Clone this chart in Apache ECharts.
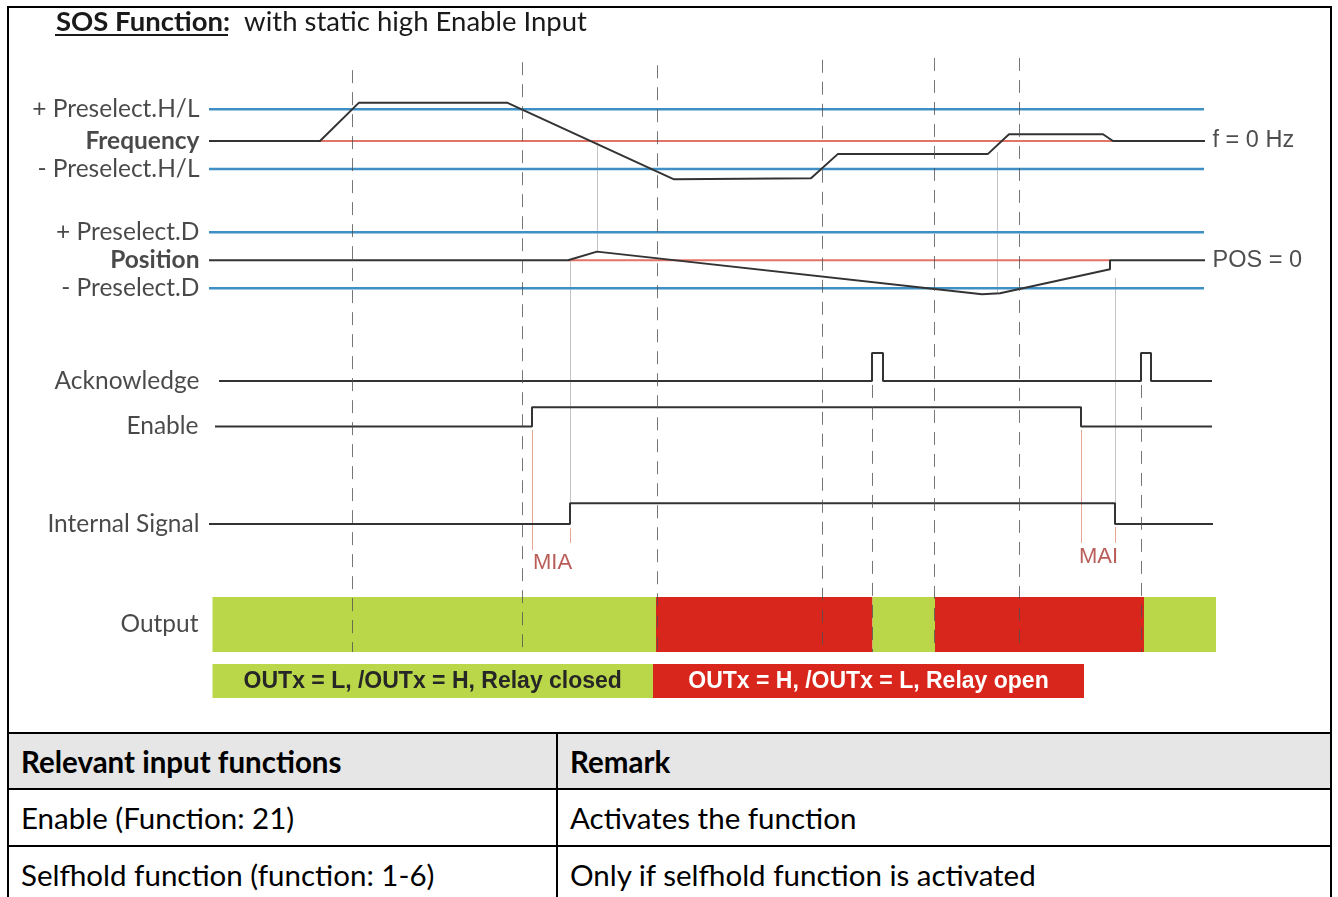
<!DOCTYPE html>
<html>
<head>
<meta charset="utf-8">
<title>SOS Function</title>
<script src="https://cdn.jsdelivr.net/npm/echarts@6/dist/echarts.min.js"></script>
<style>
  html, body { margin: 0; padding: 0; background: #fff; }
  #wrap { position: relative; width: 1338px; height: 897px; overflow: hidden; background: #fff; }
  #chart { position: absolute; left: 0; top: 0; width: 1338px; height: 730px; }
  #frame { position: absolute; left: 7px; top: 6px; width: 1325px; height: 900px;
           border: 2px solid #000; border-bottom: none; box-sizing: border-box; pointer-events: none; }
  #tbl { position: absolute; left: 7px; top: 732px; width: 1325px; border-collapse: collapse;
         font-family: Lato, "Noto Sans", sans-serif; font-size: 29.5px; color: #000; table-layout: fixed; }
  #tbl td { border: 2px solid #000; padding: 0 0 0 12px; vertical-align: middle; white-space: nowrap; }
  #tbl tr.head td { background: #e7e6e6; font-weight: bold; height: 54px; }
  #tbl tr.row td { height: 55px; }
</style>
</head>
<body>
<div id="wrap">
  <div id="chart"></div>
  <table id="tbl"></table>
  <div id="frame"></div>
</div>
<script>
// ---------- signal data (time in arbitrary units, levels per lane) ----------
const freqTrace = [[0, 0], [11.1, 0], [15.0, 1.37], [29.8, 1.37], [46.5, -1.37], [60.2, -1.33],
                   [62.9, -0.46], [77.9, -0.46], [80.0, 0.24], [89.4, 0.24], [90.4, 0], [99.6, 0]];
const freqZero = [[11.1, 0], [90.4, 0]];
const freqLimits = [1.13, -1];
const freqLabels = ['+ Preselect.H/L', 'Frequency', '- Preselect.H/L'];
const freqRightLabel = 'f = 0 Hz';

const posTrace = [[0, 0], [35.9, 0], [38.8, 0.31], [77.3, -1.21], [79.1, -1.18], [90.1, -0.32],
                  [90.1, 0], [99.6, 0]];
const posZero = [[35.9, 0], [90.1, 0]];
const posLimits = [1, -1];
const posLabels = ['+ Preselect.D', 'Position', '- Preselect.D'];
const posRightLabel = 'POS = 0';

const limitSpan = [0, 99.5];

const ackTrace = [[1.0, 0], [66.3, 0], [66.3, 1], [67.4, 1], [67.4, 0], [93.2, 0], [93.2, 1],
                  [94.2, 1], [94.2, 0], [100.3, 0]];
const enableTrace = [[0.6, 0], [32.3, 0], [32.3, 1], [87.2, 1], [87.2, 0], [100.3, 0]];
const internalTrace = [[0, 0], [36.1, 0], [36.1, 1], [90.6, 1], [90.6, 0], [100.4, 0]];
const laneNames = ['Acknowledge', 'Enable', 'Internal Signal', 'Output'];

// output state: [start, end, state] where 1 = H (relay open), 0 = L (relay closed)
const outputStates = [[0.35, 44.7, 0], [44.7, 66.35, 1], [66.35, 72.6, 0], [72.6, 93.5, 1], [93.5, 100.7, 0]];
const stateKey = [[0.35, 44.4, 0], [44.4, 87.5, 1]];
const stateKeyText = ['OUTx = L, /OUTx = H, Relay closed', 'OUTx = H, /OUTx = L, Relay open'];

// vertical guides: [t, from, to] on the guide lane (0 = top, 100 = bottom)
const eventGuides = [[14.27, 3.3, 98.7], [31.32, 2.0, 98.7], [44.77, 2.5, 98.7], [61.27, 1.6, 98.7],
                     [72.5, 1.3, 98.7], [81.03, 1.3, 98.7], [66.33, 54.9, 98.7], [93.23, 54.9, 98.7]];
const linkGuides = [[38.8, 14.9, 33.1], [36.1, 34.6, 74.3], [78.8, 16.7, 40.0], [90.55, 37.4, 74.3]];
const delayMarks = [[32.33, 62.3, 82.0], [36.1, 78.4, 80.8], [87.2, 62.3, 80.8], [90.6, 78.2, 80.8]];
const delayLabels = [[34.35, 84.1, 'MIA'], [88.95, 83.1, 'MAI']];

const titleBold = 'SOS Function:';
const titleRest = 'with static high Enable Input';

const tableHeader = ['Relevant input functions', 'Remark'];
const tableRows = [
  ['Enable (Function: 21)', 'Activates the function'],
  ['Selfhold function (function: 1-6)', 'Only if selfhold function is activated']
];

// ---------- styling ----------
const TRACE = '#333333';
const BLUE = '#3f8fc5';
const ZERO_RED = '#e27467';
const GREEN = '#b9d749';
const RED = '#d9261c';
const LABEL_FONT = 'Lato';
const LABEL_SIZE = 24.5;
const SANS = '"Liberation Sans", Arial, sans-serif';

// ---------- lanes (grids) ----------
const lanes = [
  { top: 85, height: 112, min: -2, max: 2 },        // 0 frequency
  { top: 204.3, height: 112, min: -2, max: 2 },     // 1 position
  { top: 353, height: 28, min: 0, max: 1 },         // 2 acknowledge
  { top: 407.3, height: 19.2, min: 0, max: 1 },     // 3 enable
  { top: 503.3, height: 20.7, min: 0, max: 1 },     // 4 internal signal
  { top: 597, height: 55, min: 0, max: 1 },         // 5 output
  { top: 664, height: 34, min: 0, max: 1 },         // 6 state key
  { top: 50, height: 610, min: 0, max: 100, inverse: true } // 7 guides
];
const GRID_LEFT = 209, GRID_W = 1010, T_MAX = 101;

const grid = lanes.map(l => ({ left: GRID_LEFT, width: GRID_W, top: l.top, height: l.height }));
const xAxis = lanes.map((l, i) => ({ gridIndex: i, type: 'value', min: 0, max: T_MAX, show: false }));
const yAxis = lanes.map((l, i) => ({ gridIndex: i, type: 'value', min: l.min, max: l.max,
                                     inverse: !!l.inverse, show: false }));

const series = [];

function line(idx, data, color, width, z) {
  series.push({ type: 'line', xAxisIndex: idx, yAxisIndex: idx, data: data, symbol: 'none',
                clip: false, silent: true, z: z || 3, animation: false,
                lineStyle: { color: color, width: width } });
}
function labels(idx, items, side, distance, extra) {
  series.push({ type: 'scatter', xAxisIndex: idx, yAxisIndex: idx, symbolSize: 1, clip: false,
                silent: true, animation: false, itemStyle: { color: 'rgba(0,0,0,0)' }, z: 6,
                data: items.map(it => ({ value: [it[0], it[1]],
                  label: Object.assign({ show: true, position: side, distance: distance,
                    formatter: it[2], fontFamily: LABEL_FONT, fontSize: LABEL_SIZE, color: '#1c1c1c' },
                    extra || {}, it[3] || {}) })) });
}

const rightLabelStyle = { fontFamily: SANS, fontSize: 23.5, color: '#222' };

// frequency lane
freqLimits.forEach(v => line(0, [[limitSpan[0], v], [limitSpan[1], v]], BLUE, 2.5, 2));
line(0, freqZero, ZERO_RED, 2, 2);
line(0, freqTrace, TRACE, 2, 4);
labels(0, [[0, freqLimits[0], freqLabels[0]], [0, 0, freqLabels[1], { fontWeight: 'bold' }],
           [0, freqLimits[1], freqLabels[2]]], 'left', 9);
labels(0, [[99.6, 0, freqRightLabel]], 'right', 7, rightLabelStyle);

// position lane
posLimits.forEach(v => line(1, [[limitSpan[0], v], [limitSpan[1], v]], BLUE, 2.5, 2));
line(1, posZero, ZERO_RED, 2, 2);
line(1, posTrace, TRACE, 2, 4);
labels(1, [[0, posLimits[0], posLabels[0]], [0, 0, posLabels[1], { fontWeight: 'bold' }],
           [0, posLimits[1], posLabels[2]]], 'left', 9);
labels(1, [[99.6, 0, posRightLabel]], 'right', 7, rightLabelStyle);

// digital lanes
line(2, ackTrace, TRACE, 2, 4);
line(3, enableTrace, TRACE, 2, 4);
line(4, internalTrace, TRACE, 2, 4);
labels(2, [[0, 0, laneNames[0]]], 'left', 9);
labels(3, [[0, 0, laneNames[1]]], 'left', 10);
labels(4, [[0, 0, laneNames[2]]], 'left', 9);
labels(5, [[0, 0.5, laneNames[3]]], 'left', 10);

// output state bars
series.push({
  type: 'custom', xAxisIndex: 5, yAxisIndex: 5, data: outputStates, clip: false, silent: true,
  animation: false, z: 1,
  renderItem: function (params, api) {
    const a = api.coord([api.value(0), 1]);
    const b = api.coord([api.value(1), 0]);
    return { type: 'rect', shape: { x: a[0], y: a[1], width: b[0] - a[0], height: b[1] - a[1] },
             style: { fill: api.value(2) === 1 ? RED : GREEN } };
  }
});

// state key strip
series.push({
  type: 'custom', xAxisIndex: 6, yAxisIndex: 6, data: stateKey, clip: false, silent: true,
  animation: false, z: 1,
  renderItem: function (params, api) {
    const a = api.coord([api.value(0), 1]);
    const b = api.coord([api.value(1), 0]);
    const high = api.value(2) === 1;
    return { type: 'group', children: [
      { type: 'rect', shape: { x: a[0], y: a[1], width: b[0] - a[0], height: b[1] - a[1] },
        style: { fill: high ? RED : GREEN } },
      { type: 'text', x: (a[0] + b[0]) / 2, y: (a[1] + b[1]) / 2 + 1,
        style: { text: stateKeyText[params.dataIndex], fill: high ? '#ffffff' : '#262626',
                 font: 'bold 23px ' + SANS, align: 'center', verticalAlign: 'middle' } }
    ] };
  }
});

// guide lines
function guides(data, style, z) {
  series.push({
    type: 'custom', xAxisIndex: 7, yAxisIndex: 7, data: data, clip: false, silent: true,
    animation: false, z: z,
    renderItem: function (params, api) {
      const p0 = api.coord([api.value(0), api.value(1)]);
      const p1 = api.coord([api.value(0), api.value(2)]);
      const x = Math.round(p0[0]) + 0.5;
      return { type: 'line', shape: { x1: x, y1: p0[1], x2: x, y2: p1[1] }, style: style };
    }
  });
}
guides(eventGuides, { stroke: 'rgba(80,80,80,0.78)', lineWidth: 1, lineDash: [13, 9] }, 5);
guides(linkGuides, { stroke: '#c4c4c4', lineWidth: 1 }, 1);
guides(delayMarks, { stroke: '#e8a596', lineWidth: 1 }, 1);
labels(7, delayLabels.map(d => [d[0], d[1], d[2]]), 'inside', 0,
       { fontFamily: SANS, fontSize: 22, color: '#a8352e' });

const chart = echarts.init(document.getElementById('chart'), null, { renderer: 'canvas' });
chart.setOption({
  animation: false,
  backgroundColor: 'transparent',
  title: {
    left: 51, top: 1,
    text: '{b|' + titleBold + '}{n|  ' + titleRest + '}',
    textStyle: {
      rich: {
        b: { fontFamily: LABEL_FONT, fontWeight: 'bold', fontSize: 27.5, lineHeight: 32, color: '#1a1a1a' },
        n: { fontFamily: LABEL_FONT, fontWeight: 'normal', fontSize: 27.5, lineHeight: 32, color: '#1a1a1a' }
      }
    }
  },
  graphic: [{ type: 'rect', left: 55, top: 34, shape: { width: 173, height: 2 }, style: { fill: '#1a1a1a' } }],
  grid: grid, xAxis: xAxis, yAxis: yAxis, series: series
});

// remarks table
const tbl = document.getElementById('tbl');
function addRow(cells, cls) {
  const tr = document.createElement('tr');
  tr.className = cls;
  cells.forEach((c, i) => {
    const td = document.createElement('td');
    td.textContent = c;
    if (i === 0) td.style.width = '535px';
    tr.appendChild(td);
  });
  tbl.appendChild(tr);
}
addRow(tableHeader, 'head');
tableRows.forEach(r => addRow(r, 'row'));
</script>
</body>
</html>
